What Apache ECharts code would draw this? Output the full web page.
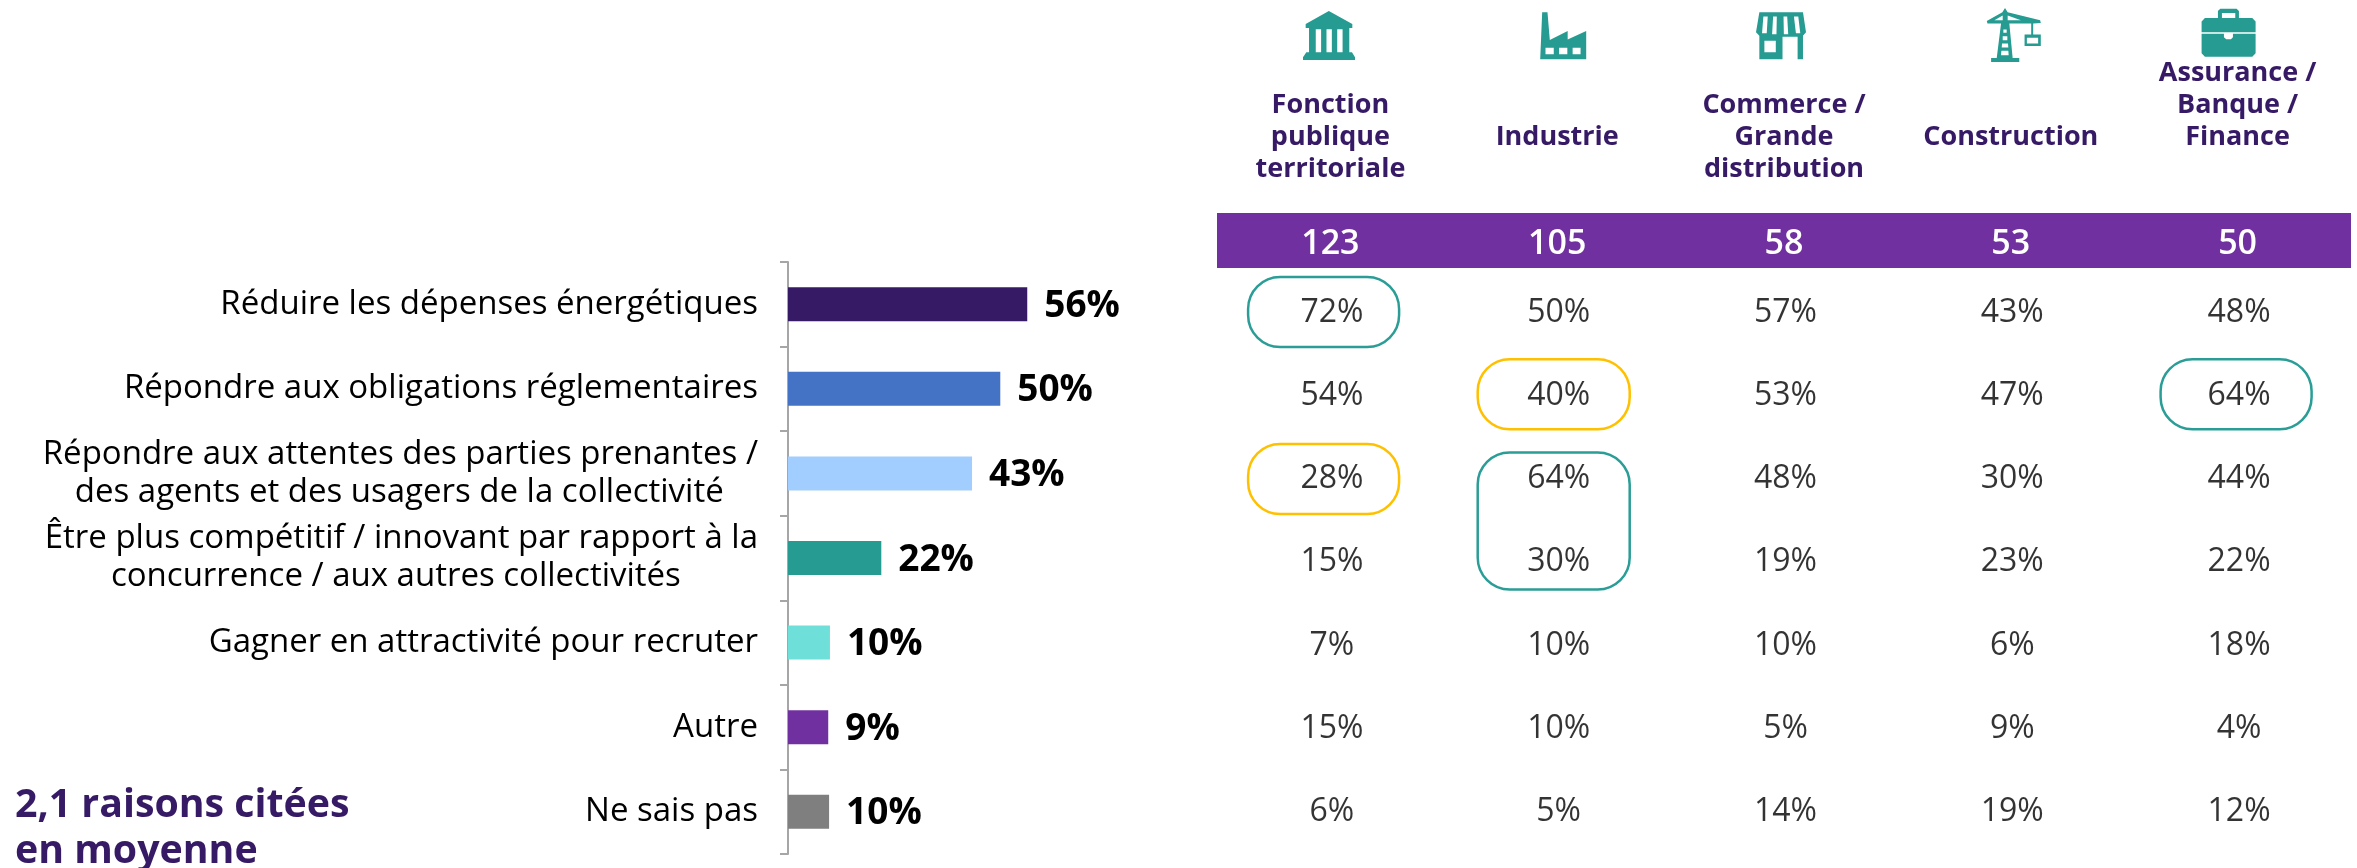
<!DOCTYPE html>
<html><head><meta charset="utf-8">
<style>html,body{margin:0;padding:0;background:#fff}#c{width:2357px;height:868px}</style>
<script src="https://cdn.jsdelivr.net/npm/echarts@6/dist/echarts.min.js"></script>
</head><body><div id="c"></div>
<script>
const reasons = ['Réduire les dépenses énergétiques','Répondre aux obligations réglementaires','Répondre aux attentes des parties prenantes /\ndes agents et des usagers de la collectivité','Être plus compétitif / innovant par rapport à la\nconcurrence / aux autres collectivités','Gagner en attractivité pour recruter','Autre','Ne sais pas'];
const overall = [55.9,49.6,43,21.8,9.8,9.4,9.6];
const barColors = ['#361A66','#4472C4','#A2CDFF','#259B91','#6EDFD9','#7030A0','#7F7F7F'];
const sectors = ['Fonction\npublique\nterritoriale','Industrie','Commerce /\nGrande\ndistribution','Construction','Assurance /\nBanque /\nFinance\n\n'];
const counts = ['123','105','58','53','50'];
const fonction = [72,54,28,15,7,15,6];
const industrie = [50,40,64,30,10,10,5];
const commerce = [57,53,48,19,10,5,14];
const construction = [43,47,30,23,6,9,19];
const assurance = [48,64,44,22,18,4,12];
const sectorValues = [fonction,industrie,commerce,construction,assurance];
const note = '2,1 raisons citées\nen moyenne';
// highlighted cells: column, first row, last row, colour
const TEAL = '#2A9D96', AMBER = '#FFC000';
const highlights = [[0,0,0,TEAL],[1,1,1,AMBER],[4,1,1,TEAL],[0,2,2,AMBER],[1,2,3,TEAL]];
// drawn shape of each highlight box: dx, dy, width, height
const boxShapes = [[-6.8,2,151,70],[-3.5,1,152,70],[-1.5,1,151,70],[-6.8,2.5,151,70],[-3.5,3,152,137]];
const iconPaths = [
 'path://M117 33L187 72L187 84L178 84L178 157L186 157L195 172L195 180L40 180L40 172L50 157L58 157L58 84L48 84L48 72ZM78 88L78 157L94 157L94 88ZM110 88L110 157L126 157L126 88ZM142 88L142 157L158 157L158 88Z',
 'path://M757 37L773 37L780 120L834 93L834 118L890 93L890 177L751 177ZM767 143L767 162L792 162L792 143ZM808 143L808 162L833 162L833 143ZM849 143L849 162L873 162L873 143Z',
 'path://M28 37L158 37L167 97L158 107L158 177L142 177L142 110L97 110L97 177L28 177L28 107L18 97ZM40 50L36 100L50 100L53 50ZM69 50L66 103L79 103L80 50ZM100 50L101 103L114 103L111 50ZM131 50L137 100L150 100L144 50ZM43 122L43 156L77 156L77 122Z',
 'path://M767 25L775 38L873 62L875 70L852 72L852 105L875 105L875 140L826 140L826 105L846 105L846 72L780 72L790 176L810 176L810 188L725 188L725 176L742 176L755 72L714 72L712 64L759 38ZM833 115L833 132L867 132L867 115ZM762 90L762 100L772 100L772 90ZM760 110L760 122L774 122L774 110ZM758 132L757 144L777 144L776 132ZM756 154L755 168L778 168L777 154ZM760 48L735 62L760 62ZM775 48L775 62L815 62Z',
 'path://M92 27L141 27L148 34L148 55L188 55L198 65L198 160L188 170L46 170L36 160L36 65L46 55L85 55L85 34ZM97 40L97 55L137 55L137 40ZM36 97L36 102L103 102L103 112L110 118L124 118L130 112L130 102L198 102L198 97Z'
];
const iconShapes = [[-1.4,35.5,52,49],[6,35.7,46,47],[-3,35.7,50,47],[3,35,54,54],[-9,32.7,54,48]];
const labelIndent = [0,0,4,9,0,0,0];

const FONT = '"Open Sans"';
const cellData = [];
sectorValues.forEach((col,c)=>col.forEach((v,r)=>cellData.push([c,r,v])));

const chart = echarts.init(document.getElementById('c'),null,{renderer:'canvas'});
chart.setOption({
  animation:false,
  backgroundColor:'#fff',
  textStyle:{fontFamily:FONT},
  title:{text:note,left:10,top:778,textStyle:{fontFamily:FONT,fontWeight:'bold',fontSize:39.3,lineHeight:46,color:'#361A66'}},
  graphic:[{type:'rect',z:-1,silent:true,shape:{x:1217,y:213,width:1134,height:55},style:{fill:'#7030A0'}}],
  grid:[
    {left:788,top:262,width:428,height:592},
    {left:1217,top:268.4,width:1134,height:582.6},
    {left:1217,top:0,width:1134,height:70}
  ],
  xAxis:[
    {gridIndex:0,type:'value',min:0,max:100,show:false},
    {gridIndex:1,type:'category',position:'top',data:sectors,axisLine:{show:false},axisTick:{show:false},
      axisLabel:{interval:0,margin:131,verticalAlign:'middle',color:'#361A66',fontFamily:FONT,fontWeight:'bold',fontSize:27,lineHeight:32}},
    {gridIndex:1,type:'category',position:'top',data:counts,axisLine:{show:false},axisTick:{show:false},
      axisLabel:{interval:0,margin:24,verticalAlign:'middle',color:'#fff',fontFamily:FONT,fontWeight:600,fontSize:34}},
    {gridIndex:2,type:'category',data:sectors,show:false}
  ],
  yAxis:[
    {gridIndex:0,type:'category',inverse:true,data:reasons,
      axisLine:{show:true,lineStyle:{color:'#A6A6A6',width:2}},
      axisTick:{show:true,length:8,lineStyle:{color:'#A6A6A6',width:2}},
      axisLabel:{interval:0,margin:30,align:'right',color:'#000',fontFamily:FONT,fontSize:33,lineHeight:38,padding:[3,0,0,0],
        formatter:(v,i)=>{const p=v.split('\n');if(p[1])p[1]+='\u00A0'.repeat(labelIndent[i]);return p.join('\n');}}},
    {gridIndex:1,type:'category',inverse:true,data:reasons,show:false},
    {gridIndex:2,type:'value',min:0,max:70,inverse:true,show:false}
  ],
  series:[
    {type:'bar',xAxisIndex:0,yAxisIndex:0,barWidth:34,silent:true,
      data:overall.map((v,i)=>({value:v,itemStyle:{color:barColors[i]}})),
      label:{show:true,position:'right',distance:17,offset:[0,2],formatter:p=>Math.round(p.value)+'%',color:'#000',fontFamily:FONT,fontWeight:'bold',fontSize:37}},
    {type:'scatter',xAxisIndex:1,yAxisIndex:1,symbolSize:0,silent:true,data:cellData,
      label:{show:true,position:'inside',offset:[1.5,2.5],formatter:p=>p.value[2]+'%',color:'#000',fontFamily:FONT,fontSize:32}},
    {type:'custom',xAxisIndex:1,yAxisIndex:1,silent:true,clip:false,z:1,
      encode:{x:0,y:1},
      data:highlights.map((h,i)=>({value:[h[0],h[1],h[2],i]})),
      renderItem:(p,api)=>{
        const i=api.value(3),s=boxShapes[i],a=api.coord([api.value(0),api.value(1)]),b=api.coord([api.value(0),api.value(2)]);
        const cy=(a[1]+b[1])/2+s[1];
        return {type:'rect',shape:{x:a[0]+s[0]-s[2]/2,y:cy-s[3]/2,width:s[2],height:s[3],r:32},
          style:{fill:'none',stroke:highlights[i][3],lineWidth:2.5}};
      }},
    {type:'scatter',xAxisIndex:3,yAxisIndex:2,silent:true,
      data:iconPaths.map((d,i)=>({value:[i,iconShapes[i][1]],symbol:d,symbolSize:[iconShapes[i][2],iconShapes[i][3]],symbolOffset:[iconShapes[i][0],0]})),
      itemStyle:{color:'#259B91',opacity:1}}
  ]
});
</script></body></html>
